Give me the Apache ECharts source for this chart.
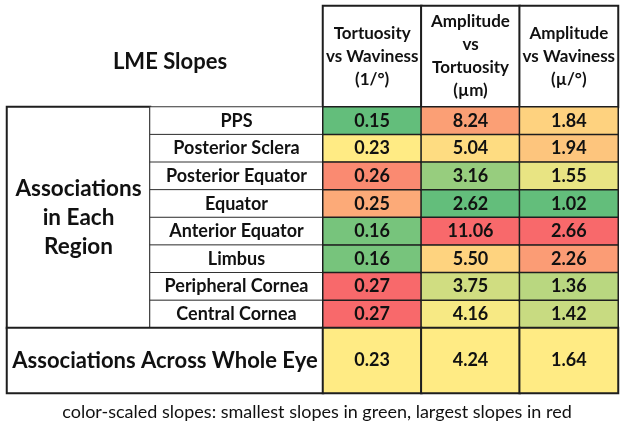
<!DOCTYPE html>
<html><head><meta charset="utf-8">
<script src="https://cdn.jsdelivr.net/npm/echarts@6/dist/echarts.min.js"></script>
<style>html,body{margin:0;padding:0;background:#fff}#c{width:626px;height:424px}</style>
</head><body><div id="c"></div>
<script>
// ---- data ----
const title = 'LME Slopes';
const columns = ['Tortuosity\nvs Waviness\n(1/°)', 'Amplitude\nvs\nTortuosity\n(µm)', 'Amplitude\nvs Waviness\n(µ/°)'];
const groupLabel = 'Associations\nin Each\nRegion';
const wholeLabel = 'Associations Across Whole Eye';
const regions = ['PPS','Posterior Sclera','Posterior Equator','Equator','Anterior Equator','Limbus','Peripheral Cornea','Central Cornea'];
const tortWav = [0.15,0.23,0.26,0.25,0.16,0.16,0.27,0.27];
const ampTort = [8.24,5.04,3.16,2.62,11.06,5.50,3.75,4.16];
const ampWav  = [1.84,1.94,1.55,1.02,2.66,2.26,1.36,1.42];
const wholeEye = [0.23,4.24,1.64];
const caption = 'color-scaled slopes: smallest slopes in green, largest slopes in red';

// ---- build ----
const FONT = 'Lato';
const cols = [tortWav, ampTort, ampWav];
// Excel-like 3-color scale position (min -> 0, median -> 0.5, max -> 1), per column
function scalePos(ci, v){
  const all = cols[ci].concat([wholeEye[ci]]).slice().sort((a,b)=>a-b);
  const mn = all[0], mx = all[all.length-1], md = all[Math.floor(all.length/2)];
  if (v <= md) return md===mn ? 0.5 : 0.5*(v-mn)/(md-mn);
  return mx===md ? 0.5 : 0.5 + 0.5*(v-md)/(mx-md);
}
const regionData = [], wholeData = [];
cols.forEach((arr, ci) => arr.forEach((v, ri) => regionData.push([ci, ri, v, scalePos(ci, v)])));
wholeEye.forEach((v, ci) => wholeData.push([ci, 0, v, scalePos(ci, v)]));

const grids = [], xAxes = [], yAxes = [], series = [];
function addTable(box, xCats, yCats, data, opts){
  const gi = grids.length;
  grids.push(Object.assign({containLabel:false}, box));
  xAxes.push({type:'category', gridIndex:gi, data:xCats, show:false});
  yAxes.push({type:'category', gridIndex:gi, data:yCats, show:false, inverse:true});
  series.push({
    type:'heatmap', xAxisIndex:gi, yAxisIndex:gi, data:data,
    itemStyle: Object.assign({borderColor:'#1e1e1e', borderWidth:1.5}, opts.itemStyle||{}),
    label: Object.assign({show:true, color:'#111', fontFamily:FONT, fontWeight:'bold', fontSize:18}, opts.label||{}),
    emphasis:{disabled:true}, silent:true, animation:false
  });
  return series.length-1;
}
// header cells
addTable({left:323, top:6, width:295, height:101}, columns, [''],
  columns.map((c,i)=>[i,0,0]),
  {itemStyle:{color:'#fff', borderWidth:2}, label:{formatter:p=>columns[p.data[0]], fontSize:17, lineHeight:23}});
// big group cell
addTable({left:7, top:107, width:143, height:221}, [''], [''], [[0,0,0]],
  {itemStyle:{color:'#fff', borderWidth:2}, label:{formatter:()=>groupLabel, fontSize:22.5, lineHeight:29}});
// region label cells
addTable({left:150, top:107, width:173, height:221}, [''], regions,
  regions.map((r,i)=>[0,i,0]),
  {itemStyle:{color:'#fff', borderWidth:1, borderColor:'#333'}, label:{formatter:p=>regions[p.data[1]], fontSize:18}});
// whole-eye label cell
addTable({left:7, top:328, width:316, height:65}, [''], [wholeLabel], [[0,0,0]],
  {itemStyle:{color:'#fff', borderWidth:2}, label:{formatter:()=>wholeLabel, fontSize:22}});
// value cells
const sR = addTable({left:323, top:107, width:295, height:221}, columns, regions, regionData,
  {label:{formatter:p=>p.data[2].toFixed(2)}});
const sW = addTable({left:323, top:328, width:295, height:65}, columns, [wholeLabel], wholeData,
  {itemStyle:{borderWidth:2}, label:{formatter:p=>p.data[2].toFixed(2), fontSize:18}});

const chart = echarts.init(document.getElementById('c'), null, {renderer:'canvas'});
chart.setOption({
  animation:false,
  backgroundColor:'#fff',
  grid:grids, xAxis:xAxes, yAxis:yAxes,
  visualMap:{type:'continuous', show:false, dimension:3, min:0, max:1, seriesIndex:[sR, sW],
    inRange:{color:['#63BE7B','#FFEB84','#F8696B']}},
  title:[
    {text:title, left:165, top:46, textAlign:'center',
      textStyle:{fontFamily:FONT, fontWeight:'bold', fontSize:22, color:'#111'}},
    {text:caption, left:312, top:398, textAlign:'center',
      textStyle:{fontFamily:FONT, fontWeight:'normal', fontSize:18, color:'#111'}}
  ],
  series:series
});
</script></body></html>
